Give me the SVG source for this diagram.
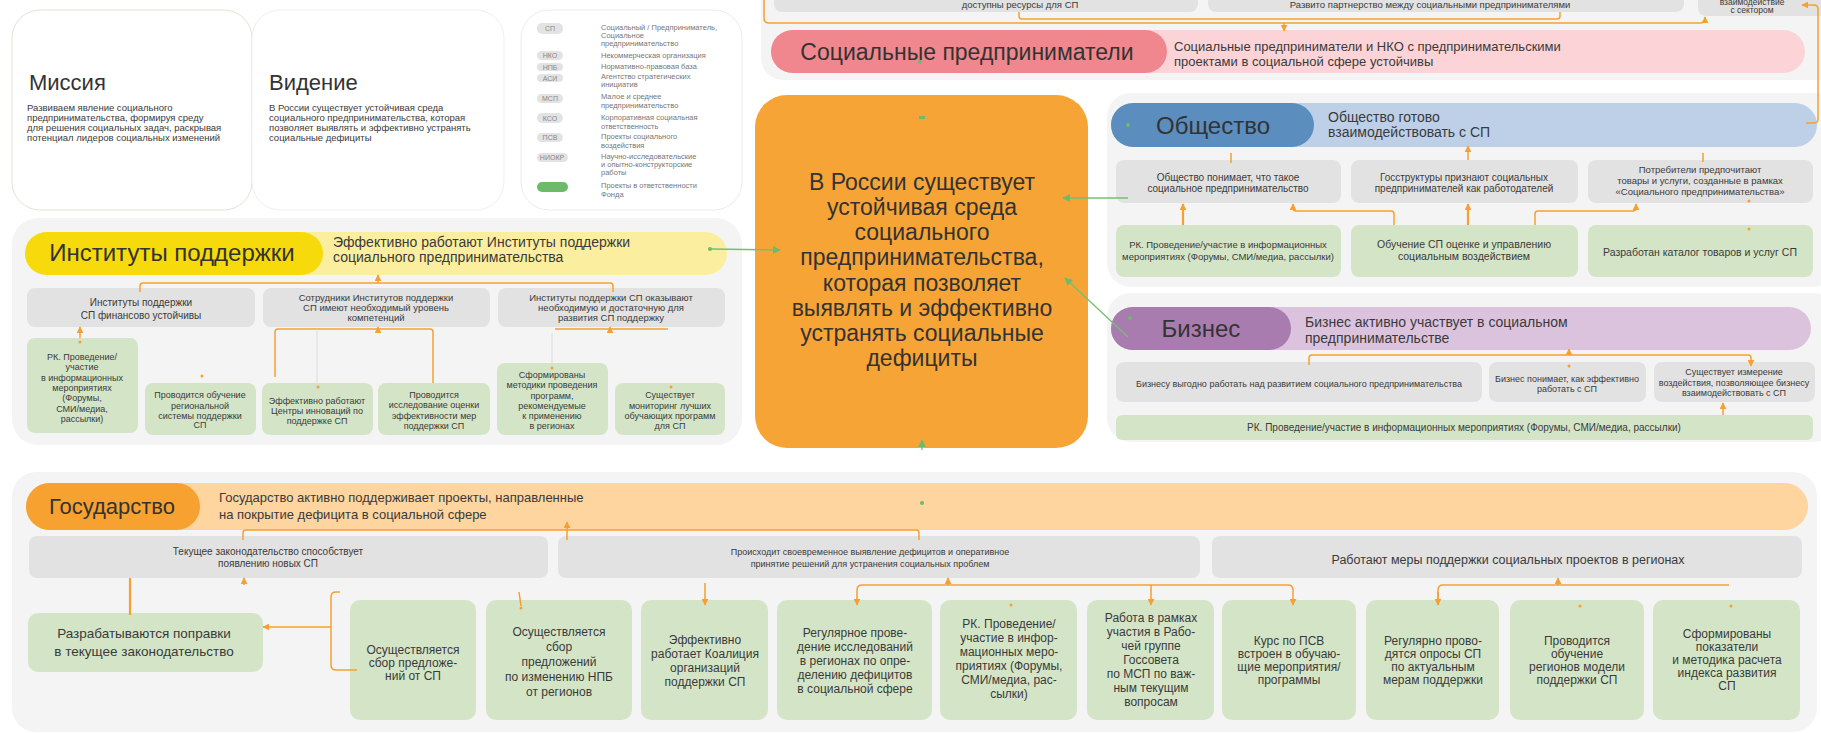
<svg xmlns="http://www.w3.org/2000/svg" width="1821" height="733" viewBox="0 0 1821 733">
<style>
.t{font-family:"Liberation Sans",Arial,sans-serif;fill:#3a3a3a}
.m{text-anchor:middle}
.cont{fill:#f4f4f4}
.gray{fill:#e2e2e2}
.green{fill:#d4e5c7}
.oc{stroke:#f5a030;fill:none;stroke-width:1.5}
.oct{stroke:#f5a030;fill:none;stroke-width:2.2}
.gc{stroke:#74bf72;fill:none;stroke-width:1.3}
.fc{stroke:#dcdcdc;fill:none;stroke-width:1}
.od{fill:#f5a030}
.gd{fill:#6dbb6a}
.badge{fill:#e3e3e3}
.lg{font-size:7.5px;fill:#777}
.bt{font-size:7px;fill:#888}
.title{font-size:23px;fill:#333}
</style>
<defs>
<marker id="ao" viewBox="0 0 10 10" refX="9" refY="5" markerWidth="7" markerHeight="7" markerUnits="userSpaceOnUse" orient="auto"><path d="M0,0 L10,5 L0,10 z" fill="#f5a030"/></marker>
<marker id="ag" viewBox="0 0 10 10" refX="9" refY="5" markerWidth="8" markerHeight="8" markerUnits="userSpaceOnUse" orient="auto"><path d="M0,0 L10,5 L0,10 z" fill="#6dbb6a"/></marker>
</defs>
<rect width="1821" height="733" fill="#ffffff"/>

<!-- Mission / Vision / Legend -->
<g id="mission">
<rect x="12" y="10" width="240" height="200" rx="28" fill="#fff" stroke="#dbe7d2" stroke-width="1"/>
<text class="t" x="29" y="90" style="font-size:22px;fill:#333">Миссия</text>
<text class="t" style="font-size:9.5px"><tspan x="27" y="111">Развиваем явление социального</tspan><tspan x="27" y="121">предпринимательства, формируя среду</tspan><tspan x="27" y="131">для решения социальных задач, раскрывая</tspan><tspan x="27" y="141">потенциал лидеров социальных изменений</tspan></text>
</g>
<g id="vision">
<rect x="252" y="10" width="252" height="200" rx="28" fill="#fff" stroke="#efefef" stroke-width="1"/>
<text class="t" x="269" y="90" style="font-size:22px;fill:#333">Видение</text>
<text class="t" style="font-size:9.5px"><tspan x="269" y="111">В России существует устойчивая среда</tspan><tspan x="269" y="121">социального предпринимательства, которая</tspan><tspan x="269" y="131">позволяет выявлять и эффективно устранять</tspan><tspan x="269" y="141">социальные дефициты</tspan></text>
</g>
<g id="legend">
<rect x="521" y="10" width="221" height="200" rx="28" fill="#fff" stroke="#ececec" stroke-width="1"/>
<rect class="badge" x="537" y="23" width="26" height="11" rx="5"/><text class="t bt m" x="550" y="31">СП</text>
<text class="t lg"><tspan x="601" y="30">Социальный / Предприниматель,</tspan><tspan x="601" y="38">Социальное</tspan><tspan x="601" y="46">предпринимательство</tspan></text>
<rect class="badge" x="537" y="51" width="26" height="9" rx="4.5"/><text class="t bt m" x="550" y="58">НКО</text>
<text class="t lg" x="601" y="58">Некоммерческая организация</text>
<rect class="badge" x="537" y="63" width="26" height="8" rx="4"/><text class="t bt m" x="550" y="69.5">НПБ</text>
<text class="t lg" x="601" y="69">Нормативно-правовая база</text>
<rect class="badge" x="537" y="74" width="26" height="8" rx="4"/><text class="t bt m" x="550" y="80.5">АСИ</text>
<text class="t lg"><tspan x="601" y="79">Агентство стратегических</tspan><tspan x="601" y="87">инициатив</tspan></text>
<rect class="badge" x="537" y="94" width="26" height="9" rx="4.5"/><text class="t bt m" x="550" y="101">МСП</text>
<text class="t lg"><tspan x="601" y="99">Малое и среднее</tspan><tspan x="601" y="108">предпринимательство</tspan></text>
<rect class="badge" x="537" y="113" width="26" height="10" rx="5"/><text class="t bt m" x="550" y="120.5">КСО</text>
<text class="t lg"><tspan x="601" y="120">Корпоративная социальная</tspan><tspan x="601" y="129">ответственность</tspan></text>
<rect class="badge" x="537" y="133" width="26" height="9" rx="4.5"/><text class="t bt m" x="550" y="140">ПСВ</text>
<text class="t lg"><tspan x="601" y="139">Проекты социального</tspan><tspan x="601" y="148">воздействия</tspan></text>
<rect class="badge" x="537" y="153" width="31" height="9" rx="4.5"/><text class="t bt m" x="552" y="160">НИОКР</text>
<text class="t lg"><tspan x="601" y="159">Научно-исследовательские</tspan><tspan x="601" y="167">и опытно-конструкторские</tspan><tspan x="601" y="175">работы</tspan></text>
<rect x="537" y="182" width="31" height="10" rx="5" fill="#6dbb6a"/>
<text class="t lg"><tspan x="601" y="188">Проекты в ответственности</tspan><tspan x="601" y="197">Фонда</tspan></text>
</g>

<!-- Social entrepreneurs -->
<g id="soc-entrepreneurs">
<rect class="cont" x="761" y="-30" width="1080" height="110" rx="22"/>
<rect class="gray" x="774" y="-30" width="424" height="42" rx="8"/>
<text class="t m" x="1020" y="8" style="font-size:9.5px">доступны ресурсы для СП</text>
<rect class="gray" x="1208" y="-30" width="476" height="42" rx="8"/>
<text class="t m" x="1430" y="8" style="font-size:9.5px">Развито партнерство между социальными предпринимателями</text>
<rect class="gray" x="1698" y="-30" width="140" height="46" rx="8"/>
<text class="t m" style="font-size:8.5px"><tspan x="1752" y="5">взаимодействие</tspan><tspan x="1752" y="13">с сектором</tspan></text>
<rect x="771" y="30" width="1034" height="43" rx="21.5" fill="#fcd4d7"/>
<rect x="771" y="30" width="396" height="43" rx="21.5" fill="#f0878e"/>
<text class="t title m" x="967" y="60">Социальные предприниматели</text>
<text class="t" style="font-size:13px"><tspan x="1174" y="51">Социальные предприниматели и НКО с предпринимательскими</tspan><tspan x="1174" y="66">проектами в социальной сфере устойчивы</tspan></text>
</g>

<!-- Center -->
<g id="center">
<rect x="755" y="95" width="333" height="353" rx="32" fill="#f7a437"/>
<text class="t m" style="font-size:23px;fill:#333"><tspan x="922" y="190">В России существует</tspan><tspan x="922" y="215">устойчивая среда</tspan><tspan x="922" y="240">социального</tspan><tspan x="922" y="265">предпринимательства,</tspan><tspan x="922" y="291">которая позволяет</tspan><tspan x="922" y="316">выявлять и эффективно</tspan><tspan x="922" y="341">устранять социальные</tspan><tspan x="922" y="366">дефициты</tspan></text>
</g>

<!-- Institutes -->
<g id="institutes">
<rect class="cont" x="12" y="218" width="730" height="227" rx="26"/>
<rect x="25" y="232" width="702" height="43" rx="21.5" fill="#fcee9f"/>
<rect x="25" y="232" width="298" height="43" rx="21.5" fill="#f6da0c"/>
<text class="t title m" x="172" y="261" style="font-size:24px">Институты поддержки</text>
<text class="t" style="font-size:14px"><tspan x="333" y="247">Эффективно работают Институты поддержки</tspan><tspan x="333" y="262">социального предпринимательства</tspan></text>
<rect class="gray" x="27" y="288" width="228" height="39" rx="8"/>
<text class="t m" style="font-size:10px"><tspan x="141" y="306">Институты поддержки</tspan><tspan x="141" y="319">СП финансово устойчивы</tspan></text>
<rect class="gray" x="263" y="288" width="227" height="39" rx="8"/>
<text class="t m" style="font-size:9.5px"><tspan x="376" y="301">Сотрудники Институтов поддержки</tspan><tspan x="376" y="311">СП имеют необходимый уровень</tspan><tspan x="376" y="321">компетенций</tspan></text>
<rect class="gray" x="498" y="288" width="227" height="39" rx="8"/>
<text class="t m" style="font-size:9.5px"><tspan x="611" y="301">Институты поддержки СП оказывают</tspan><tspan x="611" y="311">необходимую и достаточную для</tspan><tspan x="611" y="321">развития СП поддержку</tspan></text>
<rect class="green" x="27" y="338" width="111" height="95" rx="8"/>
<text class="t m" style="font-size:9px"><tspan x="82" y="360">РК. Проведение/</tspan><tspan x="82" y="370">участие</tspan><tspan x="82" y="380.5">в информационных</tspan><tspan x="82" y="391">мероприятиях</tspan><tspan x="82" y="401">(Форумы,</tspan><tspan x="82" y="411.5">СМИ/медиа,</tspan><tspan x="82" y="422">рассылки)</tspan></text>
<rect class="green" x="145" y="383" width="111" height="52" rx="8"/>
<text class="t m" style="font-size:9px"><tspan x="200" y="398">Проводится обучение</tspan><tspan x="200" y="409">региональной</tspan><tspan x="200" y="419">системы поддержки</tspan><tspan x="200" y="428">СП</tspan></text>
<rect class="green" x="262" y="383" width="111" height="52" rx="8"/>
<text class="t m" style="font-size:9px"><tspan x="317" y="404">Эффективно работают</tspan><tspan x="317" y="414">Центры инноваций по</tspan><tspan x="317" y="424">поддержке СП</tspan></text>
<rect class="green" x="378" y="383" width="112" height="52" rx="8"/>
<text class="t m" style="font-size:9px"><tspan x="434" y="398">Проводится</tspan><tspan x="434" y="408">исследование оценки</tspan><tspan x="434" y="419">эффективности мер</tspan><tspan x="434" y="429">поддержки СП</tspan></text>
<rect class="green" x="497" y="363" width="111" height="72" rx="8"/>
<text class="t m" style="font-size:9px"><tspan x="552" y="378">Сформированы</tspan><tspan x="552" y="388">методики проведения</tspan><tspan x="552" y="399">программ,</tspan><tspan x="552" y="409">рекомендуемые</tspan><tspan x="552" y="419">к применению</tspan><tspan x="552" y="429">в регионах</tspan></text>
<rect class="green" x="615" y="383" width="110" height="52" rx="8"/>
<text class="t m" style="font-size:9px"><tspan x="670" y="398">Существует</tspan><tspan x="670" y="409">мониторинг лучших</tspan><tspan x="670" y="419">обучающих программ</tspan><tspan x="670" y="429">для СП</tspan></text>
</g>

<!-- Society -->
<g id="society">
<rect class="cont" x="1107" y="93" width="730" height="194" rx="24"/>
<rect x="1111" y="103" width="706" height="44" rx="22" fill="#bdd0e7"/>
<rect x="1111" y="103" width="203" height="44" rx="22" fill="#5b8dbf"/>
<text class="t title m" x="1213" y="134" style="font-size:24px">Общество</text>
<text class="t" style="font-size:14px"><tspan x="1328" y="122">Общество готово</tspan><tspan x="1328" y="137">взаимодействовать с СП</tspan></text>
<rect class="gray" x="1116" y="160" width="225" height="43" rx="8"/>
<text class="t m" style="font-size:10px"><tspan x="1228" y="181">Общество понимает, что такое</tspan><tspan x="1228" y="192">социальное предпринимательство</tspan></text>
<rect class="gray" x="1351" y="160" width="227" height="43" rx="8"/>
<text class="t m" style="font-size:10px"><tspan x="1464" y="181">Госструктуры признают социальных</tspan><tspan x="1464" y="192">предпринимателей как работодателей</tspan></text>
<rect class="gray" x="1588" y="160" width="225" height="43" rx="8"/>
<text class="t m" style="font-size:9.5px"><tspan x="1700" y="173">Потребители предпочитают</tspan><tspan x="1700" y="184">товары и услуги, созданные в рамках</tspan><tspan x="1700" y="195">«Социального предпринимательства»</tspan></text>
<rect class="green" x="1116" y="225" width="225" height="52" rx="8"/>
<text class="t m" style="font-size:9.5px"><tspan x="1228" y="248">РК. Проведение/участие в информационных</tspan><tspan x="1228" y="260">мероприятиях (Форумы, СМИ/медиа, рассылки)</tspan></text>
<rect class="green" x="1351" y="225" width="227" height="52" rx="8"/>
<text class="t m" style="font-size:10.5px"><tspan x="1464" y="248">Обучение СП оценке и управлению</tspan><tspan x="1464" y="260">социальным воздействием</tspan></text>
<rect class="green" x="1588" y="225" width="225" height="52" rx="8"/>
<text class="t m" x="1700" y="256" style="font-size:10.5px">Разработан каталог товаров и услуг СП</text>
</g>

<!-- Business -->
<g id="business">
<rect class="cont" x="1107" y="293" width="730" height="149" rx="24"/>
<rect x="1111" y="307" width="700" height="43" rx="21.5" fill="#dcc3dd"/>
<rect x="1111" y="307" width="180" height="43" rx="21.5" fill="#a97caf"/>
<text class="t title m" x="1201" y="337" style="font-size:24px">Бизнес</text>
<text class="t" style="font-size:14px"><tspan x="1305" y="327">Бизнес активно участвует в социальном</tspan><tspan x="1305" y="343">предпринимательстве</tspan></text>
<rect class="gray" x="1116" y="362" width="366" height="40" rx="8"/>
<text class="t m" x="1299" y="387" style="font-size:9px">Бизнесу выгодно работать над развитием социального предпринимательства</text>
<rect class="gray" x="1489" y="362" width="157" height="40" rx="8"/>
<text class="t m" style="font-size:9px"><tspan x="1567" y="382">Бизнес понимает, как эффективно</tspan><tspan x="1567" y="392">работать с СП</tspan></text>
<rect class="gray" x="1654" y="362" width="161" height="40" rx="8"/>
<text class="t m" style="font-size:9px"><tspan x="1734" y="375">Существует измерение</tspan><tspan x="1734" y="386">воздействия, позволяющее бизнесу</tspan><tspan x="1734" y="396">взаимодействовать с СП</tspan></text>
<rect class="green" x="1116" y="415" width="697" height="25" rx="6"/>
<text class="t m" x="1464" y="431" style="font-size:10px">РК. Проведение/участие в информационных мероприятиях (Форумы, СМИ/медиа, рассылки)</text>
</g>

<!-- Government -->
<g id="government">
<rect class="cont" x="12" y="472" width="1805" height="260" rx="24"/>
<rect x="26" y="483" width="1782" height="47" rx="23.5" fill="#fed49f"/>
<rect x="26" y="483" width="174" height="47" rx="23.5" fill="#f7a131"/>
<text class="t title m" x="112" y="514" style="font-size:22px">Государство</text>
<text class="t" style="font-size:13px"><tspan x="219" y="502">Государство активно поддерживает проекты, направленные</tspan><tspan x="219" y="519">на покрытие дефицита в социальной сфере</tspan></text>
<rect class="gray" x="29" y="536" width="519" height="42" rx="8"/>
<text class="t m" style="font-size:10px"><tspan x="268" y="555">Текущее законодательство способствует</tspan><tspan x="268" y="567">появлению новых СП</tspan></text>
<rect class="gray" x="558" y="536" width="642" height="42" rx="8"/>
<text class="t m" style="font-size:9px"><tspan x="870" y="555">Происходит своевременное выявление дефицитов и оперативное</tspan><tspan x="870" y="567">принятие решений для устранения социальных проблем</tspan></text>
<rect class="gray" x="1212" y="536" width="590" height="42" rx="8"/>
<text class="t m" x="1508" y="564" style="font-size:12.5px">Работают меры поддержки социальных проектов в регионах</text>
<rect class="green" x="28" y="613" width="235" height="59" rx="10"/>
<text class="t m" style="font-size:13.5px"><tspan x="144" y="638">Разрабатываются поправки</tspan><tspan x="144" y="656">в текущее законодательство</tspan></text>
<rect class="green" x="350" y="600" width="126" height="120" rx="10"/>
<text class="t m" style="font-size:12px"><tspan x="413" y="654">Осуществляется</tspan><tspan x="413" y="667">сбор предложе-</tspan><tspan x="413" y="680">ний от СП</tspan></text>
<rect class="green" x="486" y="600" width="146" height="120" rx="10"/>
<text class="t m" style="font-size:12px"><tspan x="559" y="636">Осуществляется</tspan><tspan x="559" y="651">сбор</tspan><tspan x="559" y="666">предложений</tspan><tspan x="559" y="681">по изменению НПБ</tspan><tspan x="559" y="696">от регионов</tspan></text>
<rect class="green" x="641" y="600" width="127" height="120" rx="10"/>
<text class="t m" style="font-size:12px"><tspan x="705" y="644">Эффективно</tspan><tspan x="705" y="658">работает Коалиция</tspan><tspan x="705" y="672">организаций</tspan><tspan x="705" y="686">поддержки СП</tspan></text>
<rect class="green" x="777" y="600" width="155" height="120" rx="10"/>
<text class="t m" style="font-size:12px"><tspan x="855" y="637">Регулярное прове-</tspan><tspan x="855" y="651">дение исследований</tspan><tspan x="855" y="665">в регионах по опре-</tspan><tspan x="855" y="679">делению дефицитов</tspan><tspan x="855" y="693">в социальной сфере</tspan></text>
<rect class="green" x="940" y="600" width="137" height="120" rx="10"/>
<text class="t m" style="font-size:12px"><tspan x="1009" y="628">РК. Проведение/</tspan><tspan x="1009" y="642">участие в инфор-</tspan><tspan x="1009" y="656">мационных меро-</tspan><tspan x="1009" y="670">приятиях (Форумы,</tspan><tspan x="1009" y="684">СМИ/медиа, рас-</tspan><tspan x="1009" y="698">сылки)</tspan></text>
<rect class="green" x="1087" y="600" width="127" height="120" rx="10"/>
<text class="t m" style="font-size:12px"><tspan x="1151" y="622">Работа в рамках</tspan><tspan x="1151" y="636">участия в Рабо-</tspan><tspan x="1151" y="650">чей группе</tspan><tspan x="1151" y="664">Госсовета</tspan><tspan x="1151" y="678">по МСП по важ-</tspan><tspan x="1151" y="692">ным текущим</tspan><tspan x="1151" y="706">вопросам</tspan></text>
<rect class="green" x="1222" y="600" width="134" height="120" rx="10"/>
<text class="t m" style="font-size:12px"><tspan x="1289" y="645">Курс по ПСВ</tspan><tspan x="1289" y="658">встроен в обучаю-</tspan><tspan x="1289" y="671">щие мероприятия/</tspan><tspan x="1289" y="684">программы</tspan></text>
<rect class="green" x="1366" y="600" width="133" height="120" rx="10"/>
<text class="t m" style="font-size:12px"><tspan x="1433" y="645">Регулярно прово-</tspan><tspan x="1433" y="658">дятся опросы СП</tspan><tspan x="1433" y="671">по актуальным</tspan><tspan x="1433" y="684">мерам поддержки</tspan></text>
<rect class="green" x="1510" y="600" width="134" height="120" rx="10"/>
<text class="t m" style="font-size:12px"><tspan x="1577" y="645">Проводится</tspan><tspan x="1577" y="658">обучение</tspan><tspan x="1577" y="671">регионов модели</tspan><tspan x="1577" y="684">поддержки СП</tspan></text>
<rect class="green" x="1653" y="600" width="147" height="120" rx="10"/>
<text class="t m" style="font-size:12px"><tspan x="1727" y="638">Сформированы</tspan><tspan x="1727" y="651">показатели</tspan><tspan x="1727" y="664">и методика расчета</tspan><tspan x="1727" y="677">индекса развития</tspan><tspan x="1727" y="690">СП</tspan></text>
</g>

<!-- Connectors -->
<g id="connectors">
<path class="oc" d="M764,-10 L764,18 Q764,23 769,23 L1700,23 Q1705,23 1705,18 L1705,17" marker-end="url(#ao)"/>
<path class="oc" d="M1019,12 L1019,16 Q1019,19 1022,19 L1557,19 Q1560,19 1560,16 L1560,12" stroke-width="1"/>
<path class="oc" d="M1284,23 L1284,31" marker-end="url(#ao)"/>
<path class="oc" d="M1806,123 L1814,123 Q1818,123 1818,119 L1818,9 Q1818,5 1814,5 L1802,5" marker-end="url(#ao)"/>
<circle class="gd" cx="920" cy="62" r="2"/>
<rect class="gd" x="919" y="116" width="6" height="3"/>
<circle class="gd" cx="710" cy="249" r="2"/>
<path class="gc" d="M710,249 L780,250" marker-end="url(#ag)"/>
<circle class="gd" cx="1128" cy="125" r="2"/>
<path class="gc" d="M1128,198 L1063,198" marker-end="url(#ag)"/>
<circle class="gd" cx="1130" cy="318" r="2"/>
<path class="gc" d="M1128,337 L1065,278" marker-end="url(#ag)"/>
<circle class="gd" cx="922" cy="503" r="2"/>
<path class="gc" d="M922,450 L922,440" marker-end="url(#ag)"/>
<path class="oc" d="M140,292 L140,286 Q140,283 143,283 L610,283 Q613,283 613,286 L613,292"/>
<path class="oc" d="M378,283 L378,275" marker-end="url(#ao)"/>
<path class="oc" d="M80,338 L80,327" marker-end="url(#ao)"/>
<path class="oc" d="M275,377 L275,332 Q275,329 278,329 L430,329 Q433,329 433,332 L433,383"/>
<path class="oc" d="M378,333 L378,327" marker-end="url(#ao)"/>
<path class="oc" d="M555,329 L668,329"/>
<path class="oc" d="M610,333 L610,327" marker-end="url(#ao)"/>
<path class="fc" d="M317,329 L317,383 M552,333 L552,363"/>
<circle class="od" cx="318" cy="387" r="1.5"/>
<circle class="od" cx="552" cy="368" r="1.5"/>
<circle class="od" cx="671" cy="387" r="1.5"/>
<circle class="od" cx="202" cy="376" r="1.5"/>
<circle class="od" cx="80" cy="342" r="1.5"/>
<path class="oct" d="M1183,225 L1183,204" marker-end="url(#ao)"/>
<path class="oc" d="M1394,225 L1394,214 Q1394,211 1391,211 L1296,211 Q1293,211 1293,208 L1293,204" marker-end="url(#ao)"/>
<path class="oct" d="M1468,225 L1468,204" marker-end="url(#ao)"/>
<path class="oc" d="M1535,225 L1535,214 Q1535,211 1538,211 L1633,211 Q1636,211 1636,208 L1636,204" marker-end="url(#ao)"/>
<path class="oc" d="M1231,163 L1231,153"/>
<path class="oc" d="M1468,160 L1468,146" marker-end="url(#ao)"/>
<path class="oc" d="M1703,162 L1703,153"/>
<circle class="od" cx="1749" cy="201" r="1.5"/>
<circle class="od" cx="1749" cy="229" r="1.5"/>
<path class="oc" d="M1309,365 L1309,358 Q1309,355 1312,355 L1748,355 Q1751,355 1751,358 L1751,366" marker-end="url(#ao)"/>
<path class="oc" d="M1569,355 L1569,349" marker-end="url(#ao)"/>
<circle class="od" cx="1569" cy="366" r="1.5"/>
<path class="oc" d="M1723,415 L1723,403" marker-end="url(#ao)"/>
<path class="oc" d="M243,540 L243,533 Q243,530 246,530 L916,530 Q919,530 919,533 L919,540"/>
<path class="oc" d="M567,540 L567,522" marker-end="url(#ao)"/>
<path class="oc" d="M244,585 L244,578" marker-end="url(#ao)"/>
<path class="oct" d="M130,578 L130,615"/>
<path class="oc" d="M357,670 L336,670 Q331,670 331,665 L331,597 Q331,592 336,592 L340,592"/>
<path class="oc" d="M331,627 L263,627" marker-end="url(#ao)"/>
<path class="oc" d="M519,592 L521,606" stroke-width="1"/>
<circle class="od" cx="521" cy="608" r="1.5"/>
<path class="oc" d="M705,583 L705,605" marker-end="url(#ao)"/>
<path class="oc" d="M857,590 Q857,585 862,585 L1288,585 Q1293,585 1293,590 L1293,605" marker-end="url(#ao)"/>
<path class="oc" d="M857,590 L857,605" marker-end="url(#ao)"/>
<path class="oc" d="M1151,585 L1151,605" marker-end="url(#ao)"/>
<path class="oc" d="M948,585 L948,578" marker-end="url(#ao)"/>
<path class="oc" d="M1438,605 L1438,590 Q1438,585 1443,585 L1729,585"/>
<path class="oc" d="M1438,592 L1438,605" marker-end="url(#ao)"/>
<path class="oc" d="M1558,585 L1558,578" marker-end="url(#ao)"/>
<circle class="od" cx="1011" cy="605" r="1.5"/>
<circle class="od" cx="1580" cy="606" r="1.5"/>
<circle class="od" cx="1731" cy="606" r="1.5"/>
</g>
</svg>
